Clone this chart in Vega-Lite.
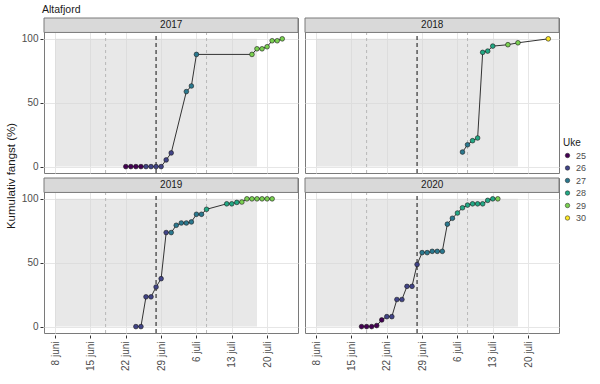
{
  "$schema": "https://vega.github.io/schema/vega-lite/v6.json",
  "padding": {"left": 5, "right": 5, "top": 4, "bottom": 5},
  "background": "white",
  "title": {"text": "Altafjord", "anchor": "start", "fontSize": 10.5, "fontWeight": "normal", "color": "#1a1a1a", "offset": 0, "dx": 37, "dy": -1},
  "data": {"values": [
    {"year": 2017, "date": "2017-06-22", "pct": 0, "uke": 25},
    {"year": 2017, "date": "2017-06-23", "pct": 0, "uke": 25},
    {"year": 2017, "date": "2017-06-24", "pct": 0, "uke": 25},
    {"year": 2017, "date": "2017-06-25", "pct": 0, "uke": 25},
    {"year": 2017, "date": "2017-06-26", "pct": 0, "uke": 26},
    {"year": 2017, "date": "2017-06-27", "pct": 0, "uke": 26},
    {"year": 2017, "date": "2017-06-28", "pct": 0, "uke": 26},
    {"year": 2017, "date": "2017-06-29", "pct": 0, "uke": 26},
    {"year": 2017, "date": "2017-06-30", "pct": 5.2, "uke": 26},
    {"year": 2017, "date": "2017-07-01", "pct": 10.7, "uke": 26},
    {"year": 2017, "date": "2017-07-04", "pct": 58.7, "uke": 27},
    {"year": 2017, "date": "2017-07-05", "pct": 63.1, "uke": 27},
    {"year": 2017, "date": "2017-07-06", "pct": 87.8, "uke": 27},
    {"year": 2017, "date": "2017-07-17", "pct": 87.8, "uke": 29},
    {"year": 2017, "date": "2017-07-18", "pct": 92.2, "uke": 29},
    {"year": 2017, "date": "2017-07-19", "pct": 92.2, "uke": 29},
    {"year": 2017, "date": "2017-07-20", "pct": 93.8, "uke": 29},
    {"year": 2017, "date": "2017-07-21", "pct": 98.5, "uke": 29},
    {"year": 2017, "date": "2017-07-22", "pct": 98.5, "uke": 29},
    {"year": 2017, "date": "2017-07-23", "pct": 100, "uke": 29},
    {"year": 2018, "date": "2018-07-07", "pct": 11.4, "uke": 27},
    {"year": 2018, "date": "2018-07-08", "pct": 17.1, "uke": 27},
    {"year": 2018, "date": "2018-07-09", "pct": 20.3, "uke": 28},
    {"year": 2018, "date": "2018-07-10", "pct": 22.4, "uke": 28},
    {"year": 2018, "date": "2018-07-11", "pct": 89.4, "uke": 28},
    {"year": 2018, "date": "2018-07-12", "pct": 90.4, "uke": 28},
    {"year": 2018, "date": "2018-07-13", "pct": 94.3, "uke": 28},
    {"year": 2018, "date": "2018-07-16", "pct": 95.4, "uke": 29},
    {"year": 2018, "date": "2018-07-18", "pct": 96.9, "uke": 29},
    {"year": 2018, "date": "2018-07-24", "pct": 100, "uke": 30},
    {"year": 2019, "date": "2019-06-24", "pct": 0, "uke": 26},
    {"year": 2019, "date": "2019-06-25", "pct": 0, "uke": 26},
    {"year": 2019, "date": "2019-06-26", "pct": 23.3, "uke": 26},
    {"year": 2019, "date": "2019-06-27", "pct": 23.3, "uke": 26},
    {"year": 2019, "date": "2019-06-28", "pct": 31.0, "uke": 26},
    {"year": 2019, "date": "2019-06-29", "pct": 37.5, "uke": 26},
    {"year": 2019, "date": "2019-06-30", "pct": 73.6, "uke": 26},
    {"year": 2019, "date": "2019-07-01", "pct": 73.6, "uke": 27},
    {"year": 2019, "date": "2019-07-02", "pct": 79.3, "uke": 27},
    {"year": 2019, "date": "2019-07-03", "pct": 81.1, "uke": 27},
    {"year": 2019, "date": "2019-07-04", "pct": 81.1, "uke": 27},
    {"year": 2019, "date": "2019-07-05", "pct": 81.9, "uke": 27},
    {"year": 2019, "date": "2019-07-06", "pct": 87.9, "uke": 27},
    {"year": 2019, "date": "2019-07-07", "pct": 87.9, "uke": 27},
    {"year": 2019, "date": "2019-07-08", "pct": 91.8, "uke": 28},
    {"year": 2019, "date": "2019-07-12", "pct": 96.1, "uke": 28},
    {"year": 2019, "date": "2019-07-13", "pct": 96.1, "uke": 28},
    {"year": 2019, "date": "2019-07-14", "pct": 97.2, "uke": 28},
    {"year": 2019, "date": "2019-07-15", "pct": 97.5, "uke": 29},
    {"year": 2019, "date": "2019-07-16", "pct": 100, "uke": 29},
    {"year": 2019, "date": "2019-07-17", "pct": 100, "uke": 29},
    {"year": 2019, "date": "2019-07-18", "pct": 100, "uke": 29},
    {"year": 2019, "date": "2019-07-19", "pct": 100, "uke": 29},
    {"year": 2019, "date": "2019-07-20", "pct": 100, "uke": 29},
    {"year": 2019, "date": "2019-07-21", "pct": 100, "uke": 29},
    {"year": 2020, "date": "2020-06-17", "pct": 0, "uke": 25},
    {"year": 2020, "date": "2020-06-18", "pct": 0, "uke": 25},
    {"year": 2020, "date": "2020-06-19", "pct": 0, "uke": 25},
    {"year": 2020, "date": "2020-06-20", "pct": 0.8, "uke": 25},
    {"year": 2020, "date": "2020-06-21", "pct": 5.2, "uke": 25},
    {"year": 2020, "date": "2020-06-22", "pct": 7.8, "uke": 26},
    {"year": 2020, "date": "2020-06-23", "pct": 7.8, "uke": 26},
    {"year": 2020, "date": "2020-06-24", "pct": 21.2, "uke": 26},
    {"year": 2020, "date": "2020-06-25", "pct": 21.2, "uke": 26},
    {"year": 2020, "date": "2020-06-26", "pct": 31.5, "uke": 26},
    {"year": 2020, "date": "2020-06-27", "pct": 31.5, "uke": 26},
    {"year": 2020, "date": "2020-06-28", "pct": 48.6, "uke": 26},
    {"year": 2020, "date": "2020-06-29", "pct": 57.9, "uke": 27},
    {"year": 2020, "date": "2020-06-30", "pct": 57.9, "uke": 27},
    {"year": 2020, "date": "2020-07-01", "pct": 58.9, "uke": 27},
    {"year": 2020, "date": "2020-07-02", "pct": 58.9, "uke": 27},
    {"year": 2020, "date": "2020-07-03", "pct": 58.9, "uke": 27},
    {"year": 2020, "date": "2020-07-04", "pct": 80.2, "uke": 27},
    {"year": 2020, "date": "2020-07-05", "pct": 84.8, "uke": 27},
    {"year": 2020, "date": "2020-07-06", "pct": 88.9, "uke": 28},
    {"year": 2020, "date": "2020-07-07", "pct": 93.0, "uke": 28},
    {"year": 2020, "date": "2020-07-08", "pct": 95.1, "uke": 28},
    {"year": 2020, "date": "2020-07-09", "pct": 96.1, "uke": 28},
    {"year": 2020, "date": "2020-07-10", "pct": 96.1, "uke": 28},
    {"year": 2020, "date": "2020-07-11", "pct": 96.1, "uke": 28},
    {"year": 2020, "date": "2020-07-12", "pct": 98.8, "uke": 28},
    {"year": 2020, "date": "2020-07-13", "pct": 100, "uke": 28},
    {"year": 2020, "date": "2020-07-14", "pct": 100, "uke": 29}
  ]},
  "spacing": 0,
  "hconcat": [
    {
      "width": 1,
      "height": 315,
      "view": {"stroke": null},
      "mark": {"type": "rule", "opacity": 0},
      "encoding": {
        "y": {"field": "pct", "type": "quantitative",
          "axis": {"title": "Kumulativ fangst (%)", "labels": false, "ticks": false, "domain": false, "grid": false, "minExtent": 0,
            "titleFontSize": 11.5, "titleFontWeight": "normal", "titleColor": "#1a1a1a", "titlePadding": 4}
        }
      }
    },
    {
      "facet": {"field": "year", "type": "ordinal", "header": {"labels": false, "labelExpr": "''", "labelFontSize": 1, "labelColor": "transparent", "title": null, "labelPadding": 0, "titlePadding": 0}},
      "columns": 2,
      "spacing": {"row": 1, "column": 5},
      "spec": {
        "width": 254,
        "height": 155,
        "layer": [
          {
            "transform": [{"aggregate": [{"op": "count", "as": "n"}], "groupby": ["year"]}],
            "mark": {"type": "rect", "fill": "#d6d6d6", "opacity": 0.55},
            "encoding": {
              "x": {"datum": {"year": 2012, "month": 6, "date": 8, "utc": true}, "type": "temporal",
                "scale": {"domain": [{"year": 2012, "month": 6, "date": 5, "hours": 19, "utc": true}, {"year": 2012, "month": 7, "date": 26, "hours": 3, "utc": true}], "nice": false},
                "axis": {
                  "title": null,
                  "values": [
                    {"year": 2012, "month": 6, "date": 8, "utc": true},
                    {"year": 2012, "month": 6, "date": 11, "hours": 12, "utc": true},
                    {"year": 2012, "month": 6, "date": 15, "utc": true},
                    {"year": 2012, "month": 6, "date": 18, "hours": 12, "utc": true},
                    {"year": 2012, "month": 6, "date": 22, "utc": true},
                    {"year": 2012, "month": 6, "date": 25, "hours": 12, "utc": true},
                    {"year": 2012, "month": 6, "date": 29, "utc": true},
                    {"year": 2012, "month": 7, "date": 2, "hours": 12, "utc": true},
                    {"year": 2012, "month": 7, "date": 6, "utc": true},
                    {"year": 2012, "month": 7, "date": 9, "hours": 12, "utc": true},
                    {"year": 2012, "month": 7, "date": 13, "utc": true},
                    {"year": 2012, "month": 7, "date": 16, "hours": 12, "utc": true},
                    {"year": 2012, "month": 7, "date": 20, "utc": true},
                    {"year": 2012, "month": 7, "date": 23, "hours": 12, "utc": true}
                  ],
                  "labelExpr": "utchours(datum.value) == 12 ? '' : utcFormat(datum.value, '%-d') + (utcmonth(datum.value) == 5 ? ' juni' : ' juli')",
                  "labelAngle": 270,
                  "labelFontSize": 10,
                  "labelColor": "#4d4d4d",
                  "labelPadding": 3,
                  "domain": false,
                  "minExtent": 0,
                  "tickSize": 3,
                  "tickColor": "#333333",
                  "tickOpacity": {"condition": {"test": "utchours(datum.value) == 12", "value": 0}, "value": 1},
                  "grid": true,
                  "gridColor": {"condition": {"test": "utchours(datum.value) == 12", "value": "#f2f2f2"}, "value": "#e6e6e6"},
                  "gridWidth": {"condition": {"test": "utchours(datum.value) == 12", "value": 0.6}, "value": 1}
                }
              },
              "x2": {"datum": {"year": 2012, "month": 7, "date": 18, "utc": true}},
              "y": {"datum": 0, "type": "quantitative",
                "scale": {"domain": [-5, 116.3], "nice": false, "zero": false},
                "axis": {
                  "title": null,
                  "values": [0, 12.5, 25, 37.5, 50, 62.5, 75, 87.5, 100],
                  "labelExpr": "datum.value % 25 == 0 ? format(datum.value, 'd') : ''",
                  "labelFontSize": 10,
                  "labelColor": "#4d4d4d",
                  "labelPadding": 2,
                  "domain": false,
                  "minExtent": 0,
                  "tickSize": 3,
                  "tickColor": "#333333",
                  "tickOpacity": {"condition": {"test": "datum.value % 25 != 0", "value": 0}, "value": 1},
                  "grid": true,
                  "gridColor": {"condition": {"test": "datum.value % 25 != 0", "value": "#f2f2f2"}, "value": "#e6e6e6"},
                  "gridWidth": {"condition": {"test": "datum.value % 25 != 0", "value": 0.6}, "value": 1}
                }
              },
              "y2": {"datum": 100}
            }
          },
          {
            "transform": [{"aggregate": [{"op": "count", "as": "n"}], "groupby": ["year"]}],
            "mark": {"type": "rule", "color": "#b8b8b8", "strokeDash": [3, 3], "strokeWidth": 1},
            "encoding": {
              "x": {"datum": {"year": 2012, "month": 6, "date": 18, "utc": true}, "type": "temporal"},
              "y": {"datum": -5, "type": "quantitative"},
              "y2": {"datum": 105}
            }
          },
          {
            "transform": [{"aggregate": [{"op": "count", "as": "n"}], "groupby": ["year"]}],
            "mark": {"type": "rule", "color": "#b8b8b8", "strokeDash": [3, 3], "strokeWidth": 1},
            "encoding": {
              "x": {"datum": {"year": 2012, "month": 7, "date": 8, "utc": true}, "type": "temporal"},
              "y": {"datum": -5, "type": "quantitative"},
              "y2": {"datum": 105}
            }
          },
          {
            "transform": [{"aggregate": [{"op": "count", "as": "n"}], "groupby": ["year"]}],
            "mark": {"type": "rule", "color": "#333333", "strokeDash": [4, 3], "strokeWidth": 1.2},
            "encoding": {
              "x": {"datum": {"year": 2012, "month": 6, "date": 28, "utc": true}, "type": "temporal"},
              "y": {"datum": -5, "type": "quantitative"},
              "y2": {"datum": 105}
            }
          },
          {
            "mark": {"type": "line", "color": "#333333", "strokeWidth": 1},
            "encoding": {
              "x": {"field": "date", "timeUnit": "utcmonthdate", "type": "temporal"},
              "y": {"field": "pct", "type": "quantitative"}
            }
          },
          {
            "mark": {"type": "point", "filled": true, "shape": "circle", "size": 22, "stroke": "#1a1a1a", "strokeWidth": 0.6, "opacity": 1},
            "encoding": {
              "x": {"field": "date", "timeUnit": "utcmonthdate", "type": "temporal"},
              "y": {"field": "pct", "type": "quantitative"},
              "fill": {"field": "uke", "type": "ordinal", "title": "Uke",
                "scale": {"domain": [25, 26, 27, 28, 29, 30], "range": ["#440154", "#414487", "#2A788E", "#22A884", "#7AD151", "#FDE725"]},
                "legend": {"orient": "none", "legendX": 543, "legendY": 120, "titleFontSize": 10, "titleFontWeight": "normal", "titleColor": "#1a1a1a", "titlePadding": 3, "labelFontSize": 9, "labelColor": "#4d4d4d", "symbolSize": 20, "symbolStrokeWidth": 0.5, "rowPadding": 2.5}
              }
            }
          },
          {
            "transform": [{"aggregate": [{"op": "count", "as": "n"}], "groupby": ["year"]}],
            "mark": {"type": "rect", "fill": "#d9d9d9", "stroke": "#7a7a7a", "strokeWidth": 1},
            "encoding": {
              "x": {"datum": {"year": 2012, "month": 6, "date": 5, "hours": 19, "utc": true}, "type": "temporal"},
              "x2": {"datum": {"year": 2012, "month": 7, "date": 26, "hours": 3, "utc": true}},
              "y": {"datum": 105, "type": "quantitative"},
              "y2": {"datum": 116.3}
            }
          },
          {
            "transform": [{"aggregate": [{"op": "count", "as": "n"}], "groupby": ["year"]}],
            "mark": {"type": "text", "fontSize": 10, "color": "#1a1a1a", "baseline": "middle", "align": "center"},
            "encoding": {
              "x": {"datum": {"year": 2012, "month": 7, "date": 1, "utc": true}, "type": "temporal"},
              "y": {"datum": 110.65, "type": "quantitative"},
              "text": {"field": "year", "type": "nominal"}
            }
          }
        ]
      }
    }
  ],
  "config": {
    "font": "Liberation Sans",
    "view": {"stroke": "#7a7a7a", "strokeWidth": 1},
    "legend": {"padding": 0},
    "concat": {"spacing": 0},
    "header": {"labels": false, "title": null, "labelPadding": 0, "titlePadding": 0, "labelFontSize": 1, "labelColor": "transparent"},
    "headerFacet": {"labels": false, "labelPadding": 0, "labelFontSize": 1, "labelColor": "transparent"},
    "headerColumn": {"labels": false, "labelPadding": 0},
    "headerRow": {"labels": false, "labelPadding": 0}
  }
}
